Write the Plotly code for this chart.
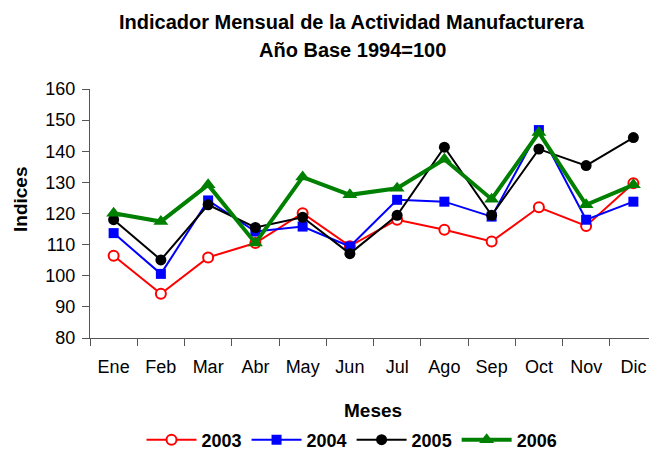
import plotly.graph_objects as go

meses = ["Ene", "Feb", "Mar", "Abr", "May", "Jun", "Jul", "Ago", "Sep", "Oct", "Nov", "Dic"]
v2003 = [106.4, 94.2, 105.9, 110.5, 120.1, 109.5, 118.0, 114.8, 111.0, 122.0, 116.0, 129.7]
v2004 = [113.7, 100.6, 124.2, 114.2, 115.8, 109.4, 124.4, 123.8, 119.0, 146.8, 118.0, 123.8]
v2005 = [118.0, 105.1, 122.8, 115.5, 118.8, 107.1, 119.4, 141.3, 119.4, 140.7, 135.4, 144.4]
v2006 = [120.1, 117.4, 129.2, 110.5, 131.7, 126.0, 128.1, 137.4, 124.6, 146.0, 122.8, 129.2]
y_ticks = [80, 90, 100, 110, 120, 130, 140, 150, 160]

FONT = "Liberation Sans, Arial, sans-serif"
OFF = 8  # page body margin
W, H = 657 - OFF, 450 - OFF
# target plot area in window pixels: x 90..657, y 89..338
ML, MT = 90 - OFF, 89 - OFF
MR = 0
MB = H - (338 - OFF)
pw, ph = W - ML - MR, H - MT - MB


def px(x):
    # window pixel x -> paper
    return (x - OFF - ML) / pw


def py(y):
    # window pixel y -> paper
    return (H - (y - OFF) - MB) / ph


fig = go.Figure()
fig.add_trace(go.Scatter(x=meses, y=v2003, name="2003", mode="lines+markers",
                         line=dict(color="#ff0000", width=2),
                         marker=dict(symbol="circle", size=10, color="white",
                                     line=dict(color="#ff0000", width=2))))
fig.add_trace(go.Scatter(x=meses, y=v2004, name="2004", mode="lines+markers",
                         line=dict(color="#0000ff", width=2),
                         marker=dict(symbol="square", size=10, color="#0000ff")))
fig.add_trace(go.Scatter(x=meses, y=v2005, name="2005", mode="lines+markers",
                         line=dict(color="#000000", width=2),
                         marker=dict(symbol="circle", size=11, color="#000000")))
fig.add_trace(go.Scatter(x=meses, y=v2006, name="2006", mode="lines+markers",
                         line=dict(color="#008000", width=4),
                         marker=dict(symbol="triangle-up", size=13, color="#008000")))

fig.update_layout(
    width=W, height=H,
    margin=dict(l=ML, r=MR, t=MT, b=MB, autoexpand=False),
    paper_bgcolor="white", plot_bgcolor="white",
    font=dict(family=FONT, color="black"),
    showlegend=True,
    legend=dict(orientation="h", x=(352 - OFF) / W, xref="container", xanchor="center",
                y=1 - (440 - OFF) / H, yref="container", yanchor="middle",
                font=dict(family=FONT, size=18, color="black", weight="bold"),
                itemwidth=50, traceorder="normal", tracegroupgap=0,
                bgcolor="rgba(0,0,0,0)"),
)
ann = dict(xref="paper", yref="paper", showarrow=False, xanchor="center", yanchor="middle")
fig.add_annotation(text="<b>Indicador Mensual de la Actividad Manufacturera</b>",
                   x=px(352), y=py(22), font=dict(family=FONT, size=20), **ann)
fig.add_annotation(text="<b>Año Base 1994=100</b>",
                   x=px(352), y=py(50), font=dict(family=FONT, size=20), **ann)
fig.add_annotation(text="<b>Indices</b>", x=px(20), y=py(200), textangle=-90,
                   font=dict(family=FONT, size=19), **ann)
fig.add_annotation(text="<b>Meses</b>", x=px(373), y=py(410),
                   font=dict(family=FONT, size=19), **ann)

fig.update_xaxes(type="category", range=[-0.5, 11.5], tickson="boundaries",
                 showline=True, linecolor="#555", linewidth=1,
                 ticks="outside", ticklen=7, tickcolor="#555",
                 showgrid=False, zeroline=False, automargin=False,
                 ticklabelstandoff=12,
                 tickfont=dict(family=FONT, size=18, color="black"))
fig.update_yaxes(range=[80, 160], tickvals=y_ticks,
                 showline=True, linecolor="#555", linewidth=1,
                 ticks="outside", ticklen=7, tickcolor="#555",
                 showgrid=False, zeroline=False, automargin=False,
                 ticklabelstandoff=3,
                 tickfont=dict(family=FONT, size=18, color="black"))

fig.write_html("out.html")
